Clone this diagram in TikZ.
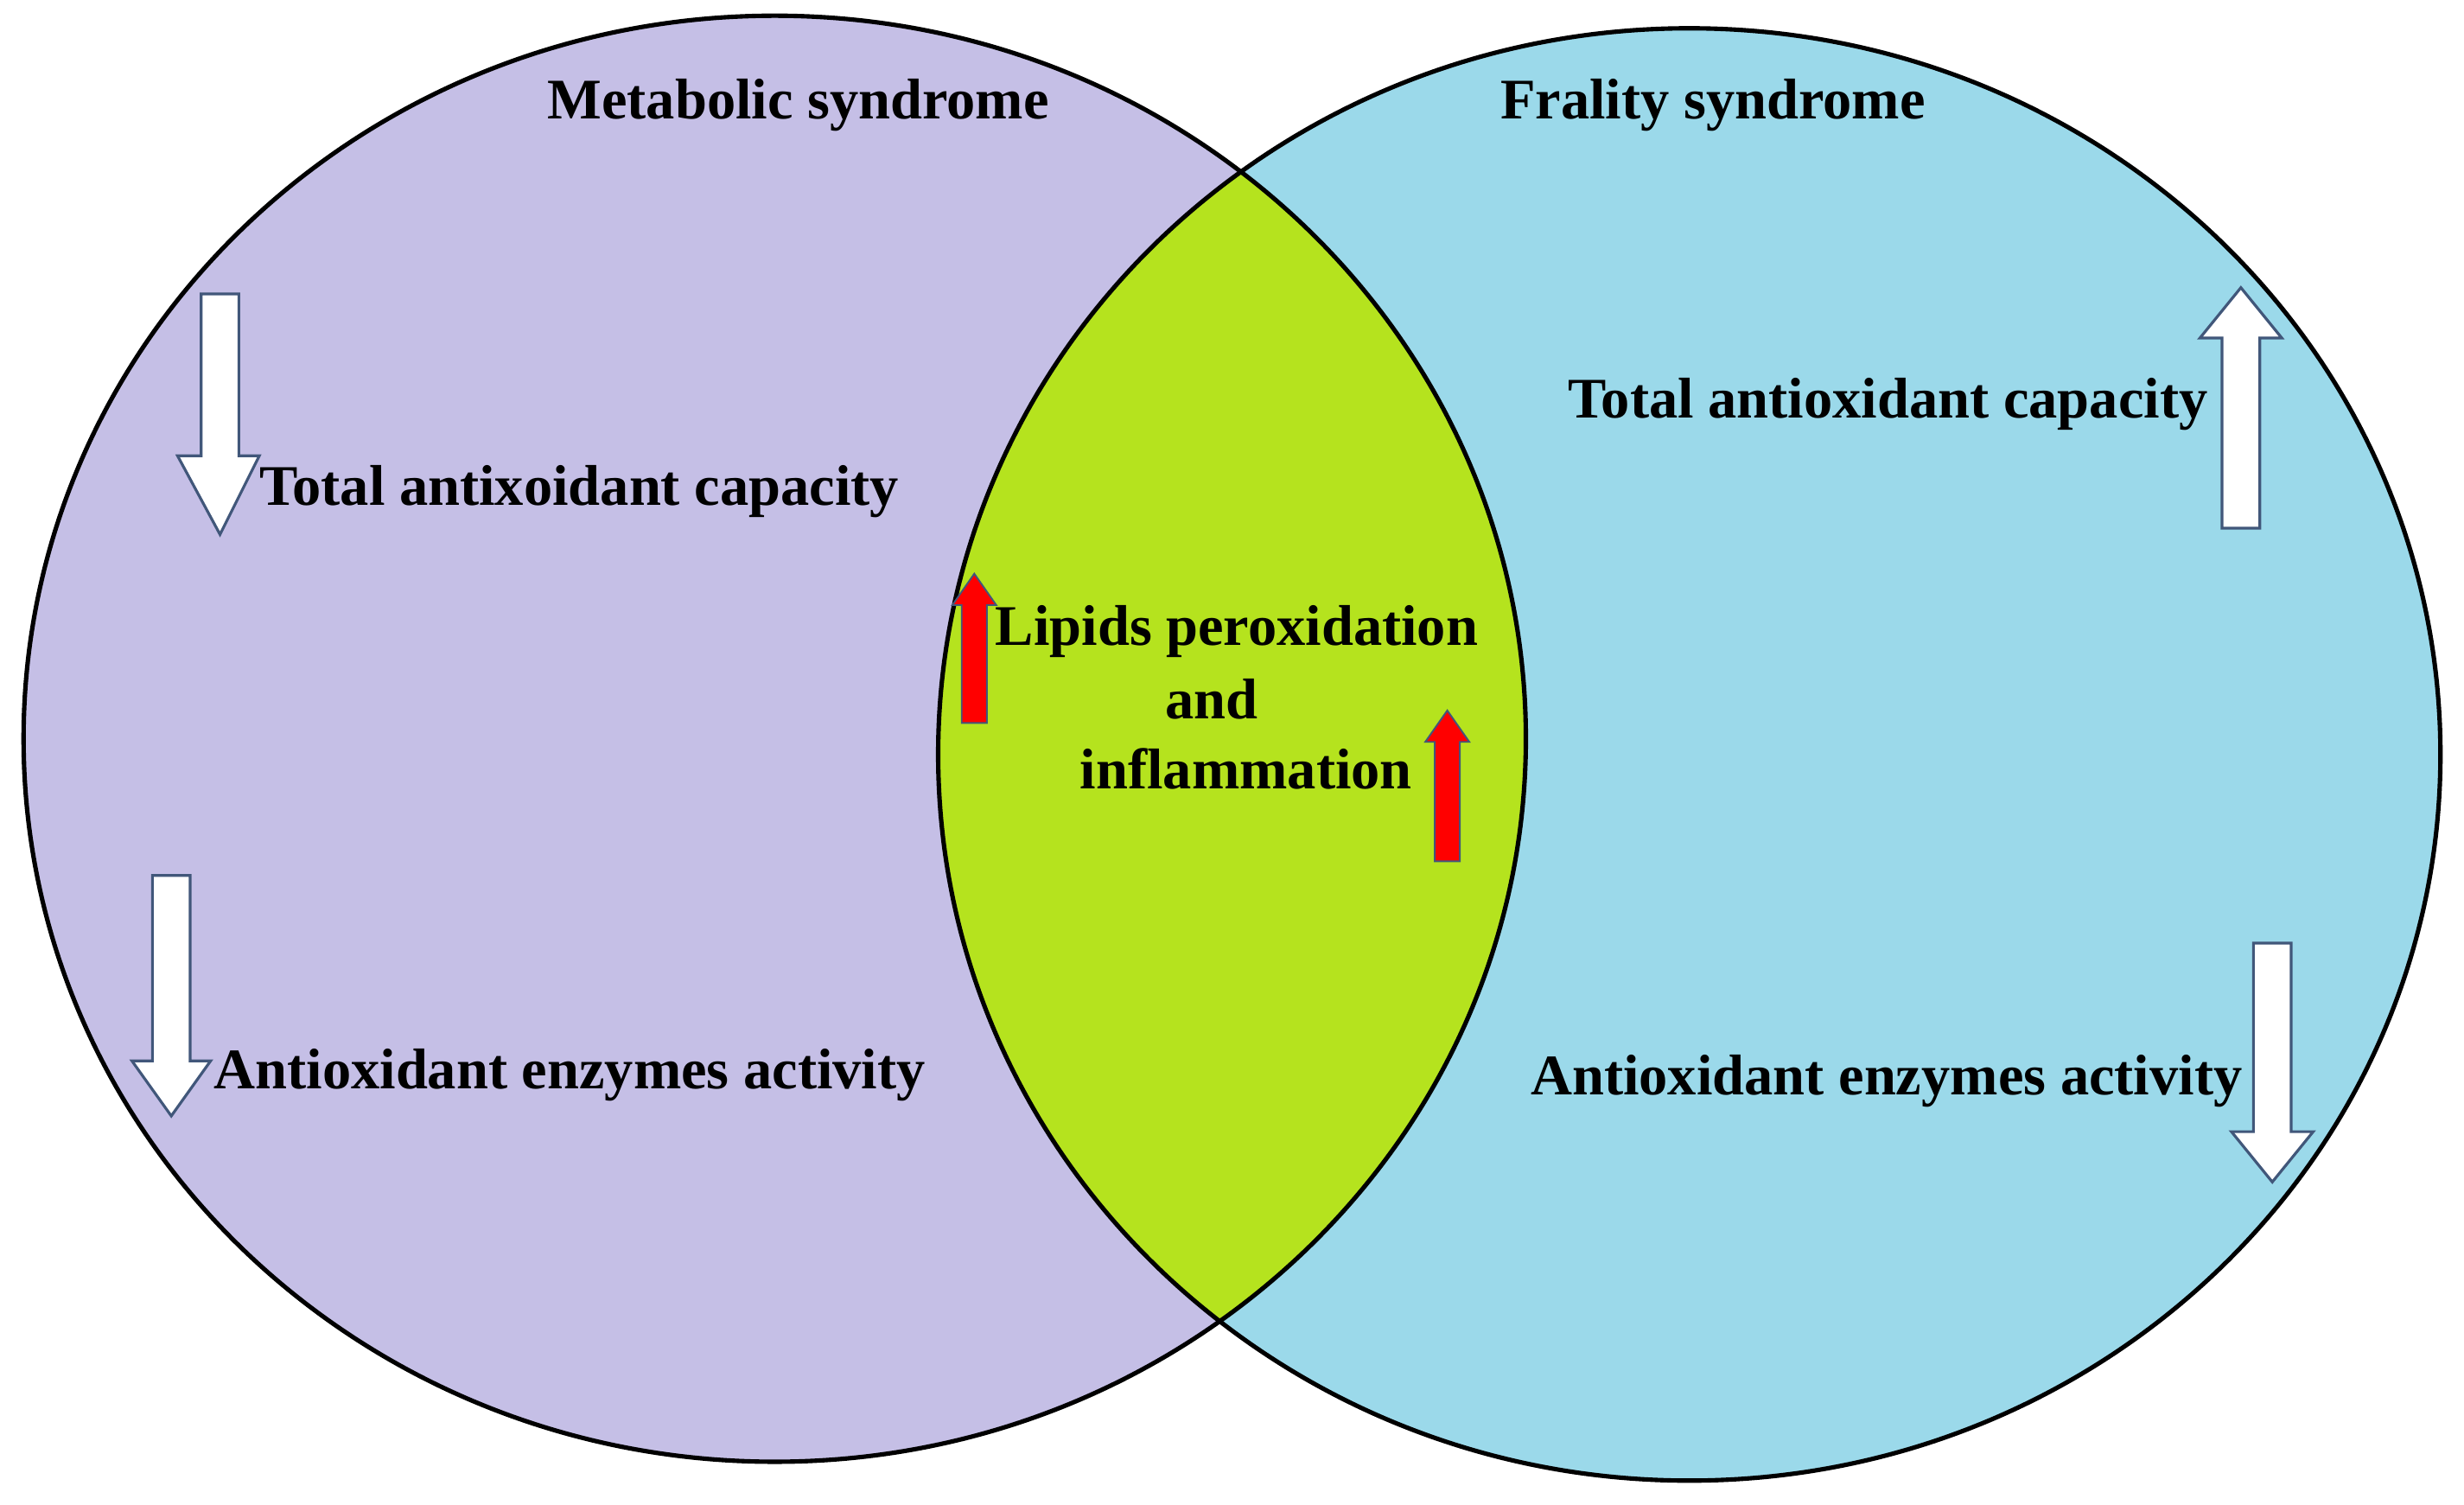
\documentclass[tikz,border=0pt]{standalone}
\usepackage{fontspec}
\setmainfont{Liberation Serif}
\begin{document}
\begin{tikzpicture}[x=0.05cm,y=-0.05cm,
  lbl/.style={font=\fontsize{52}{62}\selectfont\bfseries,inner sep=0pt},
  warrow/.style={fill=white,draw={rgb,255:red,65;green,87;blue,122},line width=2.5pt,line join=miter},
  rarrow/.style={fill=red,draw={rgb,255:red,65;green,87;blue,122},line width=1.5pt}]
\useasboundingbox (0,0) rectangle (1568,957);
\def\L{(493,470) ellipse [x radius=478,y radius=460]}
\def\R{(1075,480) ellipse [x radius=478,y radius=462]}
\fill[fill={rgb,255:red,197;green,191;blue,230}] \L;
\fill[fill={rgb,255:red,155;green,217;blue,234}] \R;
\begin{scope}
\clip \L;
\fill[fill={rgb,255:red,181;green,227;blue,30}] \R;
\end{scope}
\draw[line width=4pt] \L;
\draw[line width=4pt] \R;
% white arrows
\draw[warrow] (128,187)--(152,187)--(152,290)--(165,290)--(140,340)--(113,290)--(128,290)--cycle;
\draw[warrow] (97,557)--(121,557)--(121,675)--(134,675)--(109,710)--(84,675)--(97,675)--cycle;
\draw[warrow] (1414,336)--(1438,336)--(1438,215)--(1452,215)--(1426,183)--(1400,215)--(1414,215)--cycle;
\draw[warrow] (1434,600)--(1458,600)--(1458,720)--(1472,720)--(1446,752)--(1420,720)--(1434,720)--cycle;
% red arrows
\draw[rarrow] (612,460)--(628,460)--(628,385)--(634,385)--(620,365)--(606,385)--(612,385)--cycle;
\draw[rarrow] (913,548)--(929,548)--(929,472)--(935,472)--(921,452)--(907,472)--(913,472)--cycle;
% labels
\node[lbl] (ms) at (508,67) {Metabolic syndrome};
\node[lbl] (fs) at (1090,67) {Frality syndrome};
\node[lbl,anchor=west] (t1) at (165,313) {Total antixoidant capacity};
\node[lbl,anchor=west] (a1) at (136,684) {Antioxidant enzymes activity};
\node[lbl,anchor=east] (t2) at (1405,257) {Total antioxidant capacity};
\node[lbl,anchor=east] (a2) at (1427,688) {Antioxidant enzymes activity};
\node[lbl] (lp1) at (787,402) {Lipids peroxidation};
\node[lbl] (lp2) at (771,445) {and};
\node[lbl] (lp3) at (793,489) {inflammation};
\end{tikzpicture}
\end{document}
